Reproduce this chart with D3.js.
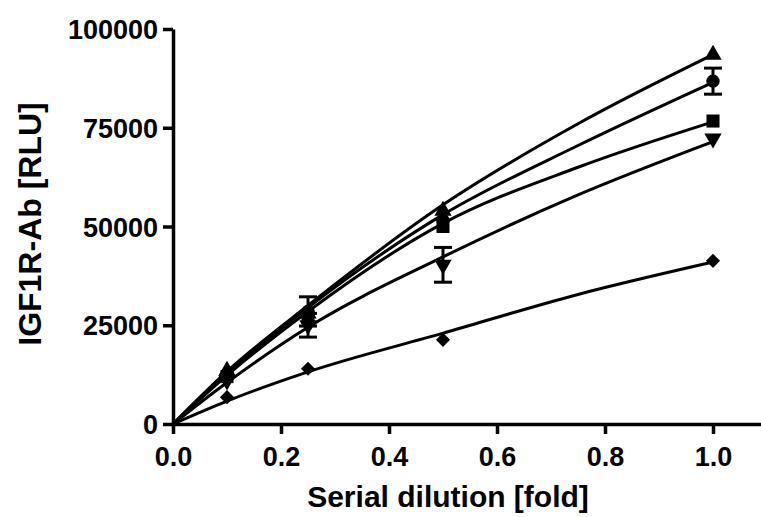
<!DOCTYPE html>
<html>
<head>
<meta charset="utf-8">
<script src="https://cdn.jsdelivr.net/npm/d3@7"></script>
<style>
  body { margin: 0; background: #fff; }
  svg { display: block; }
  text { font-family: "Liberation Sans", Arial, sans-serif; font-weight: bold; fill: #000; }
</style>
</head>
<body>
<script>
var doses = [0.1, 0.25, 0.5, 1.0];
var triUpMeans = [13500, 28000, 54000, 93500];
var circleMeans = [12500, 28500, 51500, 86800];
var circleErr = [0, 3700, 0, 3300];
var squareMeans = [12000, 27000, 50000, 76700];
var triDownMeans = [11000, 25000, 40300, 72300];
var triDownErr = [0, 3000, 4400, 0];
var diamondMeans = [6800, 14000, 21300, 41300];

// fitted curves at a few x positions
var fitX = [0, 0.1, 0.25, 0.5, 0.75, 1.0];
var triUpFit = [0, 13300, 30000, 55500, 76000, 93500];
var circleFit = [0, 12800, 29500, 53000, 70500, 86500];
var squareFit = [0, 12300, 28500, 50800, 65000, 76500];
var triDownFit = [0, 10500, 24500, 42300, 58000, 71500];
var diamondFit = [0, 5800, 13200, 23000, 32800, 41000];

var xTicks = [0.0, 0.2, 0.4, 0.6, 0.8, 1.0];
var yTicks = [0, 25000, 50000, 75000, 100000];

var width = 761, height = 517;

var x = d3.scaleLinear().domain([0, 1.1]).range([173, 767]);
var y = d3.scaleLinear().domain([0, 100000]).range([424, 29]);

var svg = d3.select("body").append("svg")
    .attr("width", width)
    .attr("height", height);

var series = [
    {means: triUpMeans, err: null, fit: triUpFit, symbol: d3.symbolTriangle, size: 130, rot: 0},
    {means: circleMeans, err: circleErr, fit: circleFit, symbol: d3.symbolCircle, size: 140, rot: 0},
    {means: squareMeans, err: null, fit: squareFit, symbol: d3.symbolSquare, size: 170, rot: 0},
    {means: triDownMeans, err: triDownErr, fit: triDownFit, symbol: d3.symbolTriangle, size: 130, rot: 180},
    {means: diamondMeans, err: null, fit: diamondFit, symbol: d3.symbolSquare, size: 100, rot: 45}
];

var line = d3.line()
    .x(function(d) { return x(d[0]); })
    .y(function(d) { return y(d[1]); })
    .curve(d3.curveMonotoneX);

// fit lines
svg.append("g").selectAll("path")
    .data(series)
    .enter()
    .append("path")
    .attr("d", function(s) { return line(fitX.map(function(v, i) { return [v, s.fit[i]]; })); })
    .attr("fill", "none")
    .attr("stroke", "#000")
    .attr("stroke-width", 3);

// error bars
series.forEach(function(s) {
    if (!s.err) return;
    var g = svg.append("g").attr("stroke", "#000").attr("stroke-width", 3);
    doses.forEach(function(d, i) {
        var e = s.err[i];
        if (!e) return;
        var cx = x(d), top = y(s.means[i] + e), bot = y(s.means[i] - e);
        g.append("line").attr("x1", cx).attr("x2", cx).attr("y1", top).attr("y2", bot);
        g.append("line").attr("x1", cx - 9).attr("x2", cx + 9).attr("y1", top).attr("y2", top);
        g.append("line").attr("x1", cx - 9).attr("x2", cx + 9).attr("y1", bot).attr("y2", bot);
    });
});

// markers
series.forEach(function(s) {
    svg.append("g").selectAll("path")
        .data(doses)
        .enter()
        .append("path")
        .attr("d", d3.symbol().type(s.symbol).size(s.size))
        .attr("transform", function(d, i) {
            return "translate(" + x(d) + "," + y(s.means[i]) + ") rotate(" + s.rot + ")";
        })
        .attr("fill", "#000");
});

// axes
var xAxis = svg.append("g")
    .attr("transform", "translate(0," + y(0) + ")")
    .call(d3.axisBottom(x).tickValues(xTicks).tickFormat(d3.format(".1f")).tickSize(10).tickSizeOuter(0).tickPadding(13));

var yAxis = svg.append("g")
    .attr("transform", "translate(" + x(0) + ",0)")
    .call(d3.axisLeft(y).tickValues(yTicks).tickFormat(d3.format("d")).tickSize(10).tickSizeOuter(0).tickPadding(5));

[xAxis, yAxis].forEach(function(a) {
    a.select(".domain").attr("stroke-width", 3.5);
    a.selectAll(".tick line").attr("stroke-width", 3.5);
    a.selectAll(".tick text").style("font-size", "27px").attr("fill", "#000");
});
yAxis.selectAll(".tick text").attr("dy", "0.36em");

// axis titles
svg.append("text")
    .attr("x", 448)
    .attr("y", 507)
    .attr("text-anchor", "middle")
    .style("font-size", "30px")
    .text("Serial dilution [fold]");

svg.append("text")
    .attr("transform", "translate(41," + 224 + ") rotate(-90)")
    .attr("text-anchor", "middle")
    .style("font-size", "32px")
    .text("IGF1R-Ab [RLU]");
</script>
</body>
</html>
